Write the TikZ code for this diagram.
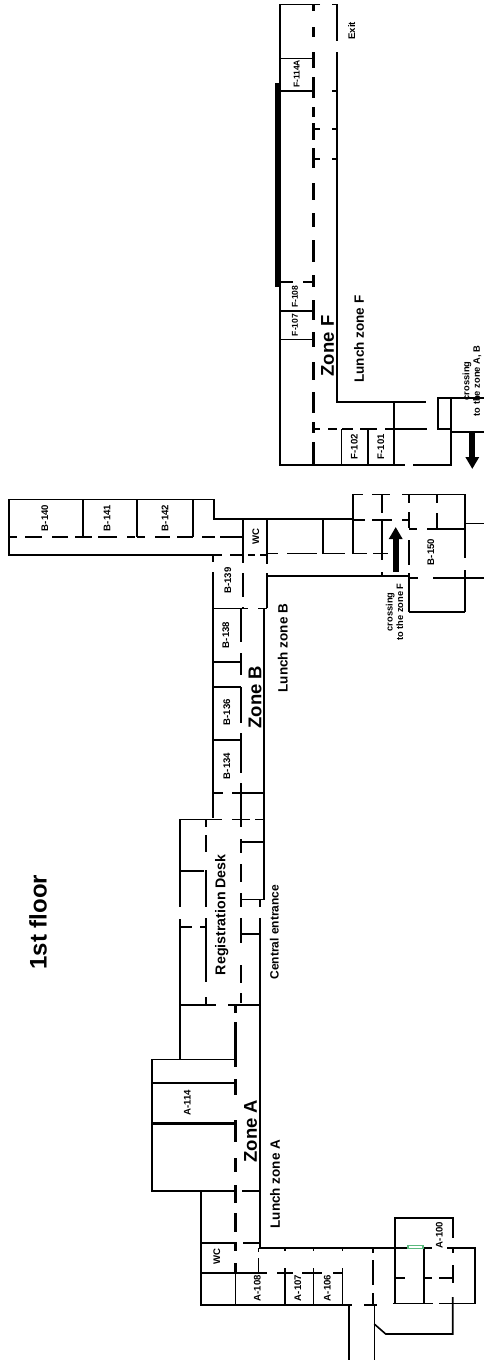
\documentclass[tikz,border=0pt]{standalone}
\usepackage{fontspec}
\setmainfont{Liberation Sans}
\usetikzlibrary{arrows.meta}
\definecolor{doorgreen}{RGB}{90,185,125}
\tikzset{
	wall/.style={line width=1.6pt},
	thinwall/.style={line width=1.1pt},
	midwall/.style={line width=2pt},
	heavywall/.style={line width=2.7pt},
	roomlabel/.style={font=\bfseries\fontsize{9.6}{10.5}\selectfont, rotate=90, inner sep=0pt},
	smalllabel/.style={font=\bfseries\fontsize{8.5}{10}\selectfont, rotate=90, inner sep=0pt},
	crosslabel/.style={font=\bfseries\fontsize{9.3}{10.5}\selectfont, rotate=90, align=center, inner sep=0pt},
	lunchlabel/.style={font=\bfseries\fontsize{13.5}{15}\selectfont, rotate=90, inner sep=0pt},
	zonelabel/.style={font=\bfseries\fontsize{18.5}{20}\selectfont, rotate=90, inner sep=0pt},
	crossarrow/.style={line width=6pt, -{Triangle[width=13pt,length=12pt]}}
}

\begin{document}
\begin{tikzpicture}[x=1pt,y=-1pt]
	\useasboundingbox (0,0) rectangle (484,1360);
	
	% Zone F
	\draw[wall] (320,4.5) -- (280,4.5) -- (280,465) -- (405,465);
	\draw[wall] (413,465) -- (451,465) -- (451,398) -- (484,398);
	\draw[wall] (332,4.5) -- (337,4.5) -- (337,41);
	\draw[wall] (337,52) -- (337,402) -- (426,402);
	\draw[line width=6pt] (278,83) -- (278,287);
	\foreach \a/\b in {4/11,27/37,52/68,77/98,107/117,123/140,148/168,183/200,213/227,240/262,275/287,300/320,332/347,362/380,392/413,422/433,442/465} {
		\draw[heavywall] (313.5,\a) -- (313.5,\b);
	}
	\foreach \y in {58.3,90.7,310.7,339.3} {
		\draw[wall] (280,\y) -- (313,\y);
	}
	\draw[wall] (332,90.7) -- (337,90.7);
	\foreach \y in {129,158.7} {
		\draw[wall] (313.5,\y) -- (320,\y);
		\draw[wall] (332,\y) -- (337,\y);
	}
	\draw[wall] (280,281.7) -- (293,281.7);
	\draw[wall] (303,281.7) -- (313,281.7);
	\foreach \a/\b in {313/320,328/337,342/353,360/377,385/427} {
		\draw[wall] (\a,429) -- (\b,429);
	}
	\foreach \x in {341.3,368} {
		\draw[wall] (\x,429) -- (\x,465);
	}
	\draw[wall] (394,402) -- (394,465);
	\draw[thinwall] (438,398) rectangle (451,429);
	\draw[wall] (451,431.7) -- (484,431.7);
	
	% Zone B, rooms on top
	\draw[wall] (213,555) -- (9,555) -- (9,499.3) -- (214,499.3) -- (214,519) -- (353.3,519);
	\foreach \a/\b in {9/17,25/42,52/68,75/92,98/117,127/135,137/145,155/170,177/193,202/215,220/242} {
		\draw[midwall] (\a,536.7) -- (\b,536.7);
	}
	\foreach \x in {83.3,136.7,193.3} {
		\draw[midwall] (\x,499.3) -- (\x,536.7);
	}
	\foreach \a/\b in {213/222,230/243,248/255,260/267} {
		\draw[wall] (\a,555) -- (\b,555);
	}
	\foreach \a/\b in {268/278,287/317,323/345,353/367,373/388} {
		\draw[wall] (\a,553.5) -- (\b,553.5);
	}
	\foreach \a/\b in {519/555,555/563,573/597,607/609} {
		\draw[midwall] (243.3,\a) -- (243.3,\b);
	}
	\foreach \a/\b in {519/564,573/608} {
		\draw[midwall] (267.3,\a) -- (267.3,\b);
	}
	\draw[midwall] (323.3,519) -- (323.3,553.5);
	\draw[midwall] (353.3,494.3) -- (353.3,553.5);
	\draw[wall] (267,576) -- (408,576);
	
	% Zone B, corridor
	\foreach \a/\b in {555/562,572/818} {
		\draw[midwall] (212.7,\a) -- (212.7,\b);
	}
	\foreach \a/\b in {608/642,653/675,687/723,733/773,783/819,820/827,839/853,864/882,893/907,918/943,965/983,993/1003} {
		\draw[midwall] (240.7,\a) -- (240.7,\b);
	}
	\draw[wall] (213,608.3) -- (248,608.3);
	\draw[wall] (258,608.3) -- (267,608.3);
	\foreach \y in {661.7,686.7,740} {
		\draw[wall] (212.7,\y) -- (240.7,\y);
	}
	\draw[thinwall] (264,608) -- (264,793);
	\draw[midwall] (213,792.7) -- (223,792.7);
	\draw[midwall] (232,792.7) -- (264,792.7);
	\draw[wall] (264,792.7) -- (264,899.3) -- (240.7,899.3);
	\draw[wall] (240.7,842) -- (264,842);
	\foreach \a/\b in {180/222,232/250,255/263} {
		\draw[wall] (\a,819.3) -- (\b,819.3);
	}
	
	% Registration
	\draw[wall] (180,819.3) -- (180,907);
	\draw[wall] (180,919) -- (180,1059.3);
	\foreach \a/\b in {820/827,835/852,870/907,918/982,997/1005} {
		\draw[midwall] (205.7,\a) -- (205.7,\b);
	}
	\draw[wall] (180,870.7) -- (204,870.7);
	\draw[wall] (180,926.7) -- (192,926.7);
	\draw[wall] (200,926.7) -- (206,926.7);
	\draw[wall] (180,1005) -- (216,1005);
	\draw[wall] (228,1005) -- (260,1005);
	\draw[wall] (240.7,934) -- (260,934);
	\draw[wall] (260,899) -- (260,907);
	\draw[wall] (260,918) -- (260,1248);
	
	% Zone A
	\foreach \a/\b in {1005/1013,1022/1067,1079/1095,1120/1142,1158/1172,1185/1203,1213/1232,1242/1251,1263/1273} {
		\draw[heavywall] (235.5,\a) -- (235.5,\b);
	}
	\draw[wall] (235.5,1059.3) -- (152,1059.3) -- (152,1191) -- (235.5,1191);
	\draw[wall] (152,1082.7) -- (235.5,1082.7);
	\draw[heavywall] (152,1123.3) -- (235.5,1123.3);
	\draw[wall] (242,1191) -- (259,1191);
	\draw[wall] (201,1191) -- (201,1305) -- (352,1305);
	\draw[heavywall] (201,1243) -- (235.5,1243);
	\draw[wall] (243,1243) -- (259,1243);
	\draw[heavywall] (201,1273) -- (235.5,1273);
	\draw[wall] (235.5,1273) -- (235.5,1305);
	\draw[thinwall] (235.5,1273) -- (258,1273);
	\foreach \a/\b in {258/267,277/293,302/322,333/342} {
		\draw[wall] (\a,1273) -- (\b,1273);
	}
	\foreach \x in {285,313.3,342.3} {
		\draw[wall] (\x,1248) -- (\x,1251);
		\draw[wall] (\x,1268) -- (\x,1305);
	}
	\foreach \a/\b in {1248/1252,1258/1272} {
		\draw[wall] (258.3,\a) -- (258.3,\b);
	}
	\foreach \a/\b in {1248/1253,1260/1285,1293/1305} {
		\draw[midwall] (372.7,\a) -- (372.7,\b);
	}
	\draw[wall] (364,1305) -- (377,1305);
	\draw[wall] (349,1305) -- (349,1360);
	
	% A-100 block
	\draw[wall] (259.3,1248) -- (408,1248);
	\draw[wall] (423,1248) -- (432,1248);
	\draw[wall] (447,1248) -- (475,1248) -- (475,1303.5) -- (439,1303.5);
	\draw[wall] (393,1303.5) -- (433,1303.5);
	\draw[wall] (395,1303.5) -- (395,1218) -- (452.7,1218) -- (452.7,1238);
	\foreach \a/\b in {1247/1253,1265/1283} {
		\draw[midwall] (452.7,\a) -- (452.7,\b);
	}
	\draw[wall] (374.3,1360) -- (374.3,1305);
	\draw[wall] (374.3,1324) -- (385.7,1334) -- (452.7,1334) -- (452.7,1297);
	\draw[midwall] (424,1247) -- (424,1303.5);
	\draw[midwall] (395,1278) -- (405,1278);
	\draw[wall] (424,1278) -- (432,1278);
	\draw[wall] (439,1278) -- (452.7,1278);
	\draw[thinwall, draw=doorgreen, fill=white] (408,1245.2) rectangle (423,1248.7);
	
	% B-150 block
	\foreach \a/\b in {353/363,372/390,402/465} {
		\draw[wall] (\a,494.3) -- (\b,494.3);
	}
	\foreach \a/\b in {494/513,520/553,553/560,572/576} {
		\draw[midwall] (381.7,\a) -- (381.7,\b);
	}
	\foreach \a/\b in {353/365,372/392,402/408} {
		\draw[wall] (\a,520) -- (\b,520);
	}
	\foreach \a/\b in {494/503,512/528,540/565,573/611.7} {
		\draw[midwall] (409,\a) -- (409,\b);
	}
	\draw[wall] (409,611.7) -- (465,611.7);
	\foreach \a/\b in {494/558,570/611.7} {
		\draw[wall] (465,\a) -- (465,\b);
	}
	\draw[wall] (409,529) -- (417,529);
	\draw[wall] (427,529) -- (465,529);
	\foreach \a/\b in {494/503,513/529} {
		\draw[midwall] (437.3,\a) -- (437.3,\b);
	}
	\draw[wall] (465,523.3) -- (484,523.3);
	\draw[wall] (409,578) -- (418,578);
	\draw[wall] (433,578) -- (484,578);
	
	% Arrows
	\coordinate (toBstart) at (472.3,432);
	\coordinate (toBend) at (472.3,469);
	\coordinate (toFstart) at (395.7,572);
	\coordinate (toFend) at (395.7,527);
	\draw[crossarrow] (toBstart) -- (toBend);
	\draw[crossarrow] (toFstart) -- (toFend);
	
	% Labels
	\foreach \lbl/\px/\py in {B-140/44.7/518,B-141/107/518,B-142/165/518,B-139/227.7/580.7,B-138/225.7/635,B-136/226.7/712.3,B-134/226.7/766,B-150/430.7/552,A-114/187.3/1102.7,A-108/257.3/1288.3,A-107/297.7/1288,A-106/327.3/1288,A-100/439.3/1235,F-102/354.3/446.7,F-101/380.7/446.7} {
		\node[roomlabel] (\lbl) at (\px,\py) {\lbl};
	}
	\foreach \lbl/\px/\py in {F-114A/296.7/74,F-108/295/296.7,F-107/295/325} {
		\node[smalllabel] (\lbl) at (\px,\py) {\lbl};
	}
	\node[roomlabel] (wcB) at (255.7,536.7) {WC};
	\node[roomlabel] (wcA) at (216.7,1256.7) {WC};
	\node[roomlabel] (exit) at (351.7,30.7) {Exit};
	\node[zonelabel] (zoneF) at (327.7,346) {Zone F};
	\node[zonelabel] (zoneB) at (255,697) {Zone B};
	\node[zonelabel] (zoneA) at (250.7,1131) {Zone A};
	\node[lunchlabel] (lunchF) at (359,339) {Lunch zone F};
	\node[lunchlabel] (lunchB) at (282.7,648) {Lunch zone B};
	\node[lunchlabel] (lunchA) at (275,1184) {Lunch zone A};
	\node[lunchlabel, font=\bfseries\fontsize{14.2}{16}\selectfont] (desk) at (221.7,914.7) {Registration Desk};
	\node[lunchlabel, font=\bfseries\fontsize{12}{14}\selectfont] (entrance) at (274.3,932) {Central entrance};
	\node[zonelabel, font=\bfseries\fontsize{24}{26}\selectfont] (floor) at (38,922) {1st floor};
	\node[crosslabel] (crossF) at (394.5,612) {crossing\\to the zone F};
	\node[crosslabel] (crossAB) at (472,381) {crossing\\to the zone A, B};
\end{tikzpicture}
\end{document}
